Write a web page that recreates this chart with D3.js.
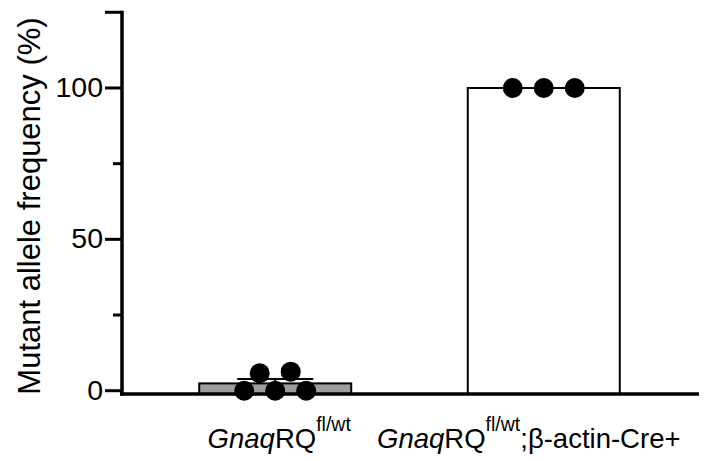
<!DOCTYPE html>
<html>
<head>
<meta charset="utf-8">
<script src="https://cdn.jsdelivr.net/npm/d3@7"></script>
<style>
  body { margin: 0; background: #fff; }
  svg { display: block; font-family: "Liberation Sans", Arial, sans-serif; }
</style>
</head>
<body>
<div id="chart"></div>
<script>
const groups = ["ctrl", "cre"];
const ctrlValues = [0, 0, 0, 6.3, 5.75];
const creValues = [100, 100, 100];
const barFills = ["#9e9e9e", "#ffffff"];
const majorTicks = [0, 50, 100];
const minorTicks = [25, 75];
const yMax = 125;

const width = 707, height = 461;
const svg = d3.select("#chart").append("svg")
  .attr("width", width)
  .attr("height", height);

const x = d3.scaleBand()
  .domain(groups)
  .range([120, 699])
  .paddingInner(0.434)
  .paddingOuter(0.295);

const y = d3.scaleLinear()
  .domain([0, yMax])
  .range([390.7, 12.3]);

const axisY = y(0) + 3.3;
const axisX = 122;

const series = [ctrlValues, creValues];
const stats = series.map((vals, i) => {
  const m = d3.mean(vals);
  const sem = vals.length > 1 ? d3.deviation(vals) / Math.sqrt(vals.length) : 0;
  return { key: groups[i], mean: m, sem: sem, vals: vals, fill: barFills[i] };
});

// bars
svg.selectAll(".bar")
  .data(stats)
  .enter()
  .append("rect")
  .attr("class", "bar")
  .attr("x", d => x(d.key))
  .attr("y", d => y(d.mean))
  .attr("width", x.bandwidth())
  .attr("height", d => axisY - y(d.mean))
  .style("fill", d => d.fill)
  .style("stroke", "#000")
  .style("stroke-width", "2px");

// error bars (upper only)
const capW = x.bandwidth() * 0.5;
stats.forEach(d => {
  const cx = x(d.key) + x.bandwidth() / 2;
  svg.append("line")
    .attr("x1", cx).attr("x2", cx)
    .attr("y1", y(d.mean)).attr("y2", y(d.mean + d.sem))
    .style("stroke", "#000").style("stroke-width", "2px");
  svg.append("line")
    .attr("x1", cx - capW / 2).attr("x2", cx + capW / 2)
    .attr("y1", y(d.mean + d.sem)).attr("y2", y(d.mean + d.sem))
    .style("stroke", "#000").style("stroke-width", "2px");
});

// scatter points: cluster close values and spread them side by side
const r = 10, spacing = 31;
stats.forEach(d => {
  const cx = x(d.key) + x.bandwidth() / 2;
  const sorted = d.vals.slice().sort((a, b) => a - b);
  const clusters = [];
  sorted.forEach(v => {
    const last = clusters[clusters.length - 1];
    if (last && Math.abs(y(last[0]) - y(v)) < 10) last.push(v);
    else clusters.push([v]);
  });
  clusters.forEach(c => {
    c.forEach((v, i) => {
      svg.append("circle")
        .attr("cx", cx + (i - (c.length - 1) / 2) * spacing)
        .attr("cy", y(v))
        .attr("r", r)
        .style("fill", "#000");
    });
  });
});

// axes
svg.append("line")
  .attr("x1", axisX).attr("x2", axisX)
  .attr("y1", y(yMax) - 1.5).attr("y2", axisY + 1.7)
  .style("stroke", "#000").style("stroke-width", "3.5px");

svg.append("line")
  .attr("x1", 120).attr("x2", 699)
  .attr("y1", axisY).attr("y2", axisY)
  .style("stroke", "#000").style("stroke-width", "3.5px");

svg.selectAll(".major")
  .data(majorTicks.concat([yMax]))
  .enter()
  .append("line")
  .attr("x1", 105).attr("x2", axisX)
  .attr("y1", d => y(d)).attr("y2", d => y(d))
  .style("stroke", "#000").style("stroke-width", "3px");

svg.selectAll(".minor")
  .data(minorTicks)
  .enter()
  .append("line")
  .attr("x1", 113).attr("x2", axisX)
  .attr("y1", d => y(d)).attr("y2", d => y(d))
  .style("stroke", "#000").style("stroke-width", "3px");

svg.selectAll(".tlabel")
  .data(majorTicks)
  .enter()
  .append("text")
  .attr("x", 103)
  .attr("y", d => y(d))
  .attr("dy", "0.32em")
  .attr("text-anchor", "end")
  .style("font-size", "28.5px")
  .text(d => d);

svg.append("text")
  .attr("transform", "translate(40,206) rotate(-90)")
  .attr("text-anchor", "middle")
  .style("font-size", "31px")
  .text("Mutant allele frequency (%)");

// category labels
const labelShift = [4, -15];
const labelSuffix = ["", ";β-actin-Cre+"];
groups.forEach((g, i) => {
  const t = svg.append("text")
    .attr("x", x(g) + x.bandwidth() / 2 + labelShift[i])
    .attr("y", 448)
    .attr("text-anchor", "middle")
    .style("font-size", "27.5px");
  t.append("tspan").style("font-style", "italic").text("Gnaq");
  t.append("tspan").text("RQ");
  t.append("tspan").attr("dy", -17).style("font-size", "19.5px").text("fl/wt");
  if (labelSuffix[i]) t.append("tspan").attr("dy", 17).text(labelSuffix[i]);
});
</script>
</body>
</html>
